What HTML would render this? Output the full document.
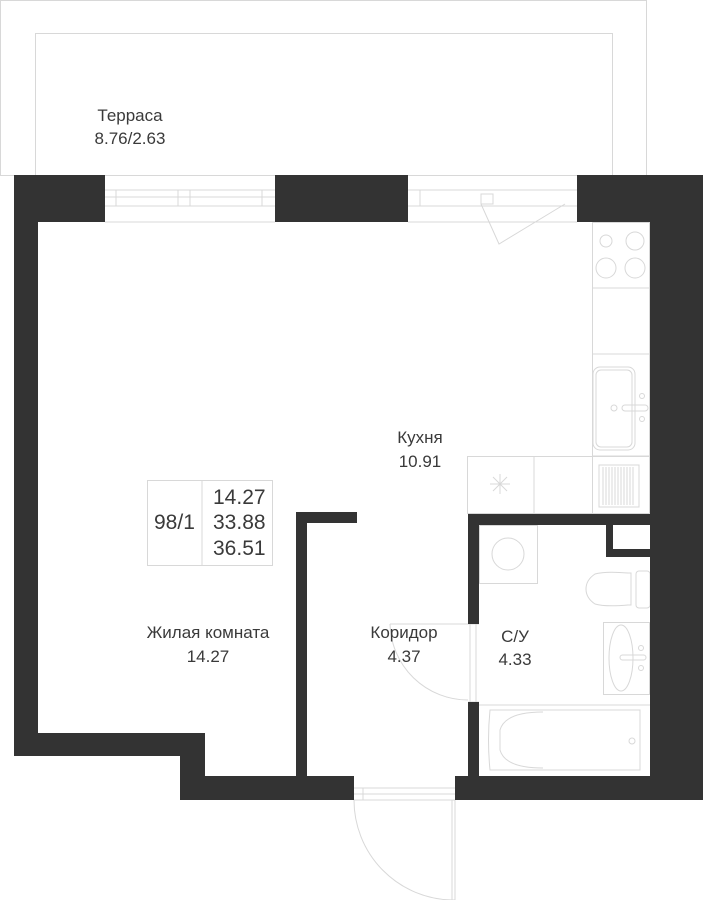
<!DOCTYPE html>
<html><head><meta charset="utf-8"><style>
html,body{margin:0;padding:0;background:#fff;width:703px;height:900px;overflow:hidden}
svg{display:block}
text{font-family:"Liberation Sans","Noto Sans CJK SC",sans-serif;fill:#3a3a3a}
</style></head><body>
<svg width="703" height="900" viewBox="0 0 703 900" xmlns="http://www.w3.org/2000/svg">
<g fill="none" stroke="#d8d8d8" stroke-width="1">
<rect x="0.5" y="0.5" width="646" height="175"/>
<rect x="35.5" y="33.5" width="577" height="142"/>
<line x1="105" y1="190" x2="275" y2="190"/><line x1="105" y1="206" x2="275" y2="206"/>
<line x1="105" y1="197" x2="275" y2="197"/><line x1="105" y1="222" x2="275" y2="222"/>
<rect x="178" y="190" width="12" height="16"/><line x1="116" y1="190" x2="116" y2="206"/><line x1="262" y1="190" x2="262" y2="206"/>
<line x1="408" y1="190" x2="577" y2="190"/><line x1="408" y1="206" x2="577" y2="206"/>
<line x1="408" y1="222" x2="577" y2="222"/>
<rect x="481" y="194" width="12" height="10"/><line x1="420" y1="190" x2="420" y2="206"/>
<polyline points="481,204 499,244 565,204"/>
<rect x="592.5" y="222.5" width="57" height="291"/>
<line x1="592" y1="288" x2="650" y2="288"/><line x1="592" y1="354" x2="650" y2="354"/><line x1="592" y1="456" x2="650" y2="456"/>
<circle cx="606" cy="241" r="6"/><circle cx="635" cy="241" r="9"/><circle cx="606" cy="268" r="10"/><circle cx="635" cy="268" r="10"/>
<rect x="593" y="367" width="42" height="83" rx="7"/><rect x="596" y="370" width="36" height="77" rx="5"/>
<circle cx="614" cy="408" r="3"/><rect x="622" y="405" width="26" height="6" rx="3"/><circle cx="642" cy="396" r="2.5"/><circle cx="642" cy="419" r="2.5"/>
<rect x="467.5" y="456.5" width="182" height="57"/><line x1="534" y1="456" x2="534" y2="514"/>
<rect x="599" y="465" width="40" height="42"/>
<path d="M603 467V505M606 467V505M609 467V505M612 467V505M615 467V505M618 467V505M621 467V505M624 467V505M627 467V505M630 467V505M633 467V505"/>
<line x1="490" y1="484" x2="510" y2="484"/><line x1="500" y1="474" x2="500" y2="494"/><line x1="493" y1="477" x2="507" y2="491"/><line x1="507" y1="477" x2="493" y2="491"/>
<rect x="479.5" y="525.5" width="58" height="58"/><circle cx="508" cy="554" r="16"/>
<path d="M628 573 L631 573 L631 605 L628 605 Q605 607 595 604 Q586 598 586 589 Q586 580 595 574 Q605 571 628 573Z"/>
<rect x="636" y="571" width="14" height="37" rx="3"/>
<rect x="603.5" y="622.5" width="46" height="72"/><ellipse cx="621" cy="658" rx="12" ry="33"/>
<rect x="620" y="655" width="26" height="5" rx="2.5"/><circle cx="641" cy="648" r="2.5"/><circle cx="641" cy="668" r="2.5"/>
<line x1="479" y1="705" x2="650" y2="705"/>
<path d="M490 710 L640 710 L640 770 L490 770 Q487 740 490 710Z"/>
<path d="M543 712 Q505 712 500 730 L500 750 Q505 768 543 768"/><circle cx="632" cy="741" r="3"/>
<line x1="468" y1="624" x2="479" y2="624"/><line x1="468" y1="702" x2="479" y2="702"/>
<line x1="470" y1="624" x2="470" y2="702"/><line x1="476" y1="624" x2="476" y2="702"/>
<line x1="390" y1="624" x2="468" y2="624"/>
<path d="M390 624 A78 78 0 0 0 468 700"/>
<line x1="354" y1="788" x2="455" y2="788"/><line x1="354" y1="794" x2="455" y2="794"/><line x1="354" y1="800" x2="455" y2="800"/>
<line x1="363" y1="788" x2="363" y2="800"/>
<rect x="452" y="800" width="3" height="100"/>
<path d="M354 800 A100 100 0 0 0 452 900"/>
<rect x="147.5" y="480.5" width="125" height="85"/><line x1="202" y1="480" x2="202" y2="565"/>
</g>
<g fill="#333">
<rect x="14" y="175" width="91" height="47"/>
<rect x="14" y="175" width="24" height="581"/>
<rect x="14" y="733" width="191" height="23"/>
<rect x="180" y="733" width="25" height="67"/>
<rect x="180" y="776" width="174" height="24"/>
<rect x="296" y="512" width="11" height="264"/>
<rect x="296" y="512" width="61" height="11"/>
<rect x="275" y="175" width="133" height="47"/>
<rect x="577" y="175" width="126" height="47"/>
<rect x="650" y="175" width="53" height="625"/>
<rect x="468" y="514" width="235" height="11"/>
<rect x="468" y="514" width="11" height="110"/>
<rect x="468" y="702" width="11" height="98"/>
<rect x="606" y="514" width="7" height="43"/>
<rect x="606" y="549" width="44" height="8"/>
<rect x="455" y="776" width="248" height="24"/>
</g>
<g font-size="17" text-anchor="middle">
<text x="130" y="121">Терраса</text><text x="130" y="144">8.76/2.63</text>
<text x="420" y="443">Кухня</text><text x="420" y="467">10.91</text>
<text x="208" y="638">Жилая комната</text><text x="208" y="662">14.27</text>
<text x="404" y="638">Коридор</text><text x="404" y="662">4.37</text>
<text x="515" y="642">С/У</text><text x="515" y="665">4.33</text>
</g>
<g font-size="21">
<text x="154" y="529">98/1</text>
<text x="213" y="504">14.27</text><text x="213" y="529">33.88</text><text x="213" y="555">36.51</text>
</g>
</svg>
</body></html>
